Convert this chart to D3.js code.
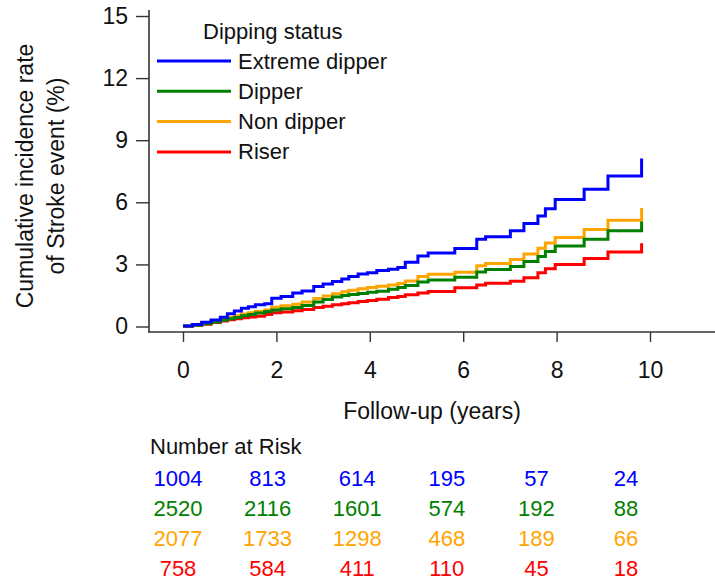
<!DOCTYPE html>
<html><head><meta charset="utf-8">
<script src="https://cdn.jsdelivr.net/npm/d3@7"></script>
<style>body{margin:0;background:#fff} text{font-family:"Liberation Sans",Arial,sans-serif;fill:#111}</style>
</head><body><svg id="c" width="715" height="587"></svg>
<script>
const times        = [0,0.2,0.4,0.6,0.8,0.95,1.1,1.25,1.4,1.55,1.75,1.9,2.1,2.35,2.55,2.8,3.0,3.2,3.4,3.55,3.75,3.95,4.15,4.4,4.6,4.76,5.03,5.25,5.82,6.29,6.48,7.01,7.3,7.6,7.76,7.97,8.59,9.10,9.82];
const extremeDipper= [0.02,0.10,0.20,0.32,0.45,0.62,0.75,0.88,0.95,1.05,1.10,1.37,1.45,1.62,1.72,1.93,2.05,2.17,2.30,2.42,2.54,2.60,2.70,2.77,2.85,3.10,3.40,3.55,3.77,4.21,4.34,4.63,4.97,5.34,5.69,6.14,6.63,7.27,8.12];
const dipper       = [0.02,0.06,0.13,0.22,0.30,0.38,0.44,0.52,0.58,0.65,0.72,0.80,0.86,0.92,1.02,1.18,1.30,1.42,1.50,1.55,1.60,1.66,1.70,1.80,1.88,1.98,2.15,2.25,2.38,2.63,2.75,2.90,3.14,3.38,3.62,3.89,4.22,4.62,5.07];
const nonDipper    = [0.02,0.07,0.15,0.24,0.35,0.45,0.52,0.60,0.66,0.72,0.80,0.93,1.00,1.08,1.18,1.35,1.47,1.58,1.68,1.75,1.82,1.88,1.94,2.01,2.08,2.20,2.41,2.52,2.62,2.93,3.04,3.24,3.50,3.78,4.03,4.30,4.68,5.13,5.72];
const riser        = [0.00,0.05,0.11,0.19,0.26,0.33,0.38,0.42,0.46,0.50,0.58,0.66,0.70,0.76,0.82,0.92,0.98,1.05,1.10,1.15,1.21,1.26,1.32,1.40,1.45,1.53,1.62,1.69,1.87,2.00,2.09,2.18,2.36,2.60,2.79,3.00,3.29,3.60,4.02];

const groups = ["Extreme dipper","Dipper","Non dipper","Riser"];
const colors = ["#0000ff","#008000","#ffa500","#ff0000"];
const seriesValues = [extremeDipper, dipper, nonDipper, riser];

const xTicks = [0,2,4,6,8,10];
const yTicks = [0,3,6,9,12,15];
const riskTimes = [0,2,4,6,8,10];
const riskExtreme = [1004,813,614,195,57,24];
const riskDipper  = [2520,2116,1601,574,192,88];
const riskNon     = [2077,1733,1298,468,189,66];
const riskRiser   = [758,584,411,110,45,18];
const riskRows = [riskExtreme, riskDipper, riskNon, riskRiser];

const svg = d3.select("#c");
const x = d3.scaleLinear().domain([0,10]).range([183,650]);
const y = d3.scaleLinear().domain([0,15]).range([326.5,16]);
const axisColor = "#333";
const fs = 23;

// axis lines
svg.append("line").attr("x1",149).attr("x2",149).attr("y1",10).attr("y2",332.5)
  .attr("stroke",axisColor).attr("stroke-width",1.6);
svg.append("line").attr("x1",148.2).attr("x2",715).attr("y1",332).attr("y2",332)
  .attr("stroke",axisColor).attr("stroke-width",1.6);

const gy = svg.append("g").attr("transform","translate(149,0)")
  .call(d3.axisLeft(y).tickValues(yTicks).tickSize(13).tickPadding(8));
gy.select(".domain").remove();
gy.selectAll("line").attr("stroke",axisColor).attr("stroke-width",1.4);
gy.selectAll("text").style("font-size",fs+"px").style("font-family",'"Liberation Sans",Arial,sans-serif').attr("fill","#111");

const gx = svg.append("g").attr("transform","translate(0,332)")
  .call(d3.axisBottom(x).tickValues(xTicks).tickSize(10).tickPadding(20));
gx.select(".domain").remove();
gx.selectAll("line").attr("stroke",axisColor).attr("stroke-width",1.4);
gx.selectAll("text").style("font-size",fs+"px").style("font-family",'"Liberation Sans",Arial,sans-serif').attr("fill","#111");

// curves
const line = d3.line().x(d=>x(d[0])).y(d=>y(d[1])).curve(d3.curveStepAfter);
seriesValues.slice().reverse().forEach((vals,ri)=>{
  const i = seriesValues.length-1-ri;
  const pts = times.map((t,k)=>[t,vals[k]]);
  svg.append("path").attr("d",line(pts)).attr("fill","none")
    .attr("stroke",colors[i]).attr("stroke-width",3);
});

// legend
const lfs = 22;
svg.append("text").attr("x",203).attr("y",31).attr("dominant-baseline","central")
  .style("font-size",lfs+"px").text("Dipping status");
groups.forEach((g,i)=>{
  const yy = 61 + i*30.3;
  svg.append("line").attr("x1",157).attr("x2",231).attr("y1",yy).attr("y2",yy)
    .attr("stroke",colors[i]).attr("stroke-width",3);
  svg.append("text").attr("x",238).attr("y",yy).attr("dominant-baseline","central")
    .style("font-size",lfs+"px").text(g);
});

// axis titles
const yt = svg.append("text").attr("transform","translate(33,176) rotate(-90)")
  .attr("text-anchor","middle").style("font-size",fs+"px");
yt.append("tspan").attr("x",0).attr("y",0).text("Cumulative incidence rate");
yt.append("tspan").attr("x",0).attr("y",31).text("of Stroke event (%)");

svg.append("text").attr("x",432).attr("y",411).attr("text-anchor","middle")
  .attr("dominant-baseline","central").style("font-size",fs+"px").text("Follow-up (years)");

// risk table
const xr = d3.scaleLinear().domain([0,10]).range([178,626]);
svg.append("text").attr("x",150).attr("y",446).attr("dominant-baseline","central")
  .style("font-size","22px").text("Number at Risk");
riskRows.forEach((row,i)=>{
  row.forEach((n,j)=>{
    svg.append("text").attr("x",xr(riskTimes[j])).attr("y",478+i*30)
      .attr("text-anchor","middle").attr("dominant-baseline","central")
      .style("font-size","22px").style("fill",colors[i]).text(n);
  });
});
</script></body></html>
